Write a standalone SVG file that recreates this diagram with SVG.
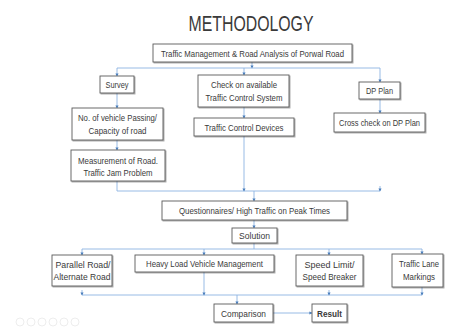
<svg xmlns="http://www.w3.org/2000/svg" width="452" height="329" viewBox="0 0 452 329">
<defs>
<style>
.box{fill:#fff;stroke:#5a5a5a;stroke-width:0.9;filter:url(#sh)}
.t{font-family:"Liberation Sans",Arial,sans-serif;font-size:8.6px;fill:#3a3a3a;text-anchor:middle}
.c{fill:none;stroke:#8db3e2;stroke-width:0.9}
.ic{fill:none;stroke:#ebebeb;stroke-width:0.9}
</style>
<filter id="sh" x="-10%" y="-20%" width="130%" height="160%">
<feDropShadow dx="1" dy="1" stdDeviation="0.6" flood-color="#000" flood-opacity="0.35"/>
</filter>
<marker id="a" viewBox="0 0 6 6" refX="5" refY="3" markerWidth="3.5" markerHeight="3.5" orient="auto">
<path d="M0,0L6,3L0,6z" fill="#4a7ebb"/>
</marker>
</defs>
<rect width="452" height="329" fill="#fff"/>
<text x="251" y="31" font-family="Liberation Sans,Arial,sans-serif" font-size="21.5" fill="#3a3a3a" text-anchor="middle" textLength="125" lengthAdjust="spacingAndGlyphs">METHODOLOGY</text>

<g id="connectors">
<path class="c" d="M252,62V68" marker-end="url(#a)"/>
<path class="c" d="M117,68H380"/>
<path class="c" d="M117,68V76" marker-end="url(#a)"/>
<path class="c" d="M244,68V75" marker-end="url(#a)"/>
<path class="c" d="M380,68V82" marker-end="url(#a)"/>
<path class="c" d="M117,93V108" marker-end="url(#a)"/>
<path class="c" d="M117,140V150" marker-end="url(#a)"/>
<path class="c" d="M244,107V118" marker-end="url(#a)"/>
<path class="c" d="M380,99V113" marker-end="url(#a)"/>
<path class="c" d="M117,181V191H380"/>
<path class="c" d="M244,136V191" marker-end="url(#a)"/>
<path class="c" d="M380,186V191" marker-end="url(#a)"/>
<path class="c" d="M254,191V201" marker-end="url(#a)"/>
<path class="c" d="M254,220V228" marker-end="url(#a)"/>
<path class="c" d="M254,243V249"/>
<path class="c" d="M82,249H422"/>
<path class="c" d="M82,249V255" marker-end="url(#a)"/>
<path class="c" d="M204,249V255" marker-end="url(#a)"/>
<path class="c" d="M329,249V255" marker-end="url(#a)"/>
<path class="c" d="M422,249V254" marker-end="url(#a)"/>
<path class="c" d="M82,295H422"/>
<path class="c" d="M204,272V295" marker-end="url(#a)"/>
<path class="c" d="M422,287V295" marker-end="url(#a)"/>
<path class="c" d="M82,290V295" marker-end="url(#a)"/>
<path class="c" d="M329,290V295" marker-end="url(#a)"/>
<path class="c" d="M237,295V304" marker-end="url(#a)"/>
<path class="c" d="M273,313H312" marker-end="url(#a)"/>
</g>

<g id="n_top"><rect class="box" x="153" y="44" width="199" height="18"/><text class="t" x="252.5" y="57" textLength="183" lengthAdjust="spacingAndGlyphs">Traffic Management &amp; Road Analysis of Porwal Road</text></g>
<g id="n_survey"><rect class="box" x="100" y="76" width="34" height="17"/><text class="t" x="117" y="88" textLength="23" lengthAdjust="spacingAndGlyphs">Survey</text></g>
<g id="n_check"><rect class="box" x="198" y="75" width="91" height="32"/><text class="t" x="244" y="88" textLength="66" lengthAdjust="spacingAndGlyphs">Check on available</text><text class="t" x="244" y="101" textLength="77" lengthAdjust="spacingAndGlyphs">Traffic Control System</text></g>
<g id="n_dp"><rect class="box" x="359" y="82" width="41" height="17"/><text class="t" x="379.5" y="94" textLength="27" lengthAdjust="spacingAndGlyphs">DP Plan</text></g>
<g id="n_vehicle"><rect class="box" x="72" y="108" width="91" height="32"/><text class="t" x="117.5" y="121" textLength="79" lengthAdjust="spacingAndGlyphs">No. of vehicle Passing/</text><text class="t" x="117.5" y="134" textLength="58" lengthAdjust="spacingAndGlyphs">Capacity of road</text></g>
<g id="n_tcd"><rect class="box" x="194" y="118" width="100" height="18"/><text class="t" x="244" y="131" textLength="79" lengthAdjust="spacingAndGlyphs">Traffic Control Devices</text></g>
<g id="n_cross"><rect class="box" x="334" y="113" width="91" height="19"/><text class="t" x="379.5" y="126" textLength="81" lengthAdjust="spacingAndGlyphs">Cross check on DP Plan</text></g>
<g id="n_measure"><rect class="box" x="71" y="150" width="94" height="31"/><text class="t" x="118" y="164" textLength="80" lengthAdjust="spacingAndGlyphs">Measurement of Road.</text><text class="t" x="118" y="176" textLength="69" lengthAdjust="spacingAndGlyphs">Traffic Jam Problem</text></g>
<g id="n_quest"><rect class="box" x="162" y="201" width="185" height="19"/><text class="t" x="254.5" y="214" textLength="151" lengthAdjust="spacingAndGlyphs">Questionnaires/ High Traffic on Peak Times</text></g>
<g id="n_solution"><rect class="box" x="232" y="228" width="45" height="15"/><text class="t" x="254.5" y="239" textLength="31" lengthAdjust="spacingAndGlyphs">Solution</text></g>
<g id="n_parallel"><rect class="box" x="52" y="255" width="60" height="31"/><text class="t" x="83" y="268" textLength="55" lengthAdjust="spacingAndGlyphs">Parallel Road/</text><text class="t" x="82" y="280" textLength="57" lengthAdjust="spacingAndGlyphs">Alternate Road</text></g>
<g id="n_heavy"><rect class="box" x="135" y="255" width="139" height="17"/><text class="t" x="204.5" y="267" textLength="117" lengthAdjust="spacingAndGlyphs">Heavy Load Vehicle Management</text></g>
<g id="n_speed"><rect class="box" x="296" y="255" width="67" height="31"/><text class="t" x="329.5" y="268" textLength="50" lengthAdjust="spacingAndGlyphs">Speed Limit/</text><text class="t" x="329.5" y="280" textLength="54" lengthAdjust="spacingAndGlyphs">Speed Breaker</text></g>
<g id="n_lane"><rect class="box" x="392" y="254" width="51" height="33"/><text class="t" x="419" y="267" textLength="40" lengthAdjust="spacingAndGlyphs">Traffic Lane</text><text class="t" x="419" y="280" textLength="32" lengthAdjust="spacingAndGlyphs">Markings</text></g>
<g id="n_comparison"><rect class="box" x="214" y="304" width="59" height="18"/><text class="t" x="243.5" y="317" textLength="45" lengthAdjust="spacingAndGlyphs">Comparison</text></g>
<g id="n_result"><rect class="box" x="312" y="304" width="35" height="18"/><text class="t" x="329.5" y="317" font-weight="bold" fill="#222" textLength="25" lengthAdjust="spacingAndGlyphs">Result</text></g>

<g id="icons">
<circle class="ic" cx="20" cy="322" r="4"/>
<circle class="ic" cx="31" cy="322" r="4"/>
<circle class="ic" cx="42" cy="322" r="4"/>
<circle class="ic" cx="53" cy="322" r="4"/>
<circle class="ic" cx="64" cy="322" r="4"/>
<circle class="ic" cx="75" cy="322" r="4"/>
</g>
</svg>
